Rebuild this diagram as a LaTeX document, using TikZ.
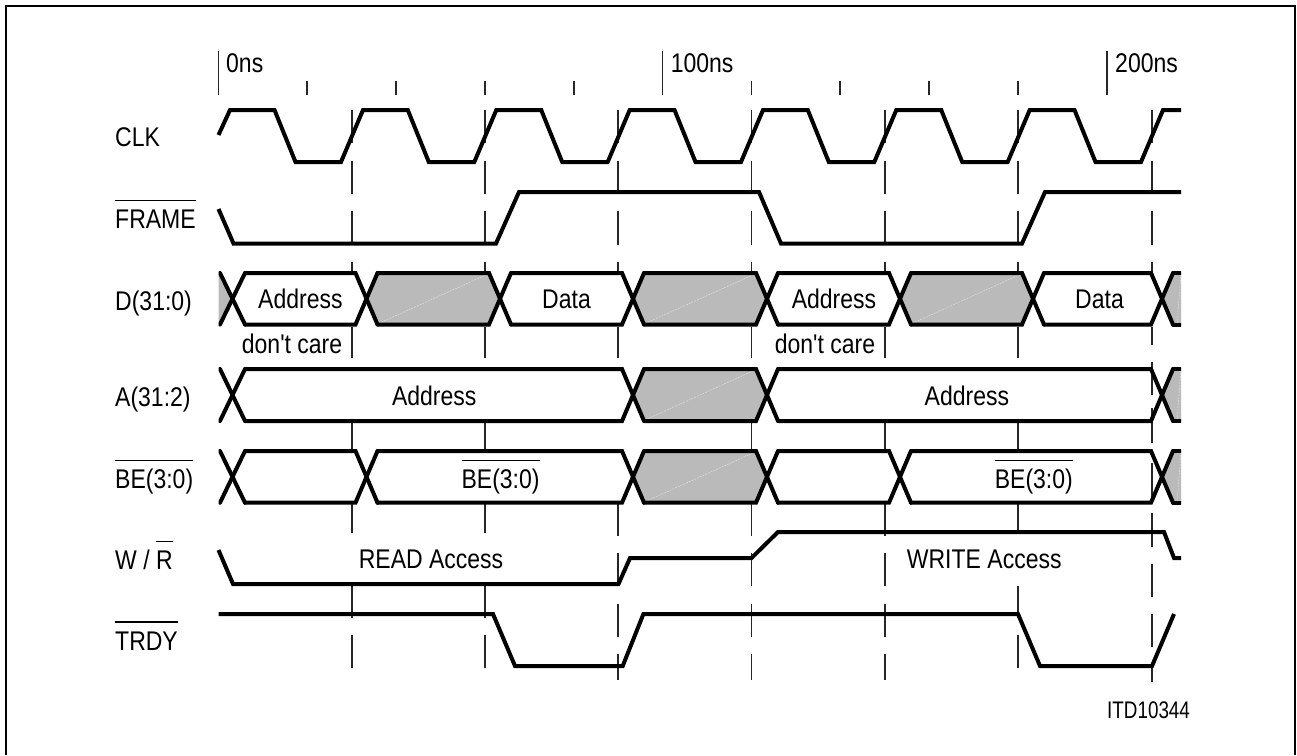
\documentclass[tikz,border=0pt]{standalone}
\usepackage{fontspec}
\newfontfamily\sigfont[FakeStretch=0.852]{Liberation Sans}
\newfontfamily\sigfontsmall[FakeStretch=0.785]{Liberation Sans}
\newcommand\ovl[1]{\leavevmode\vbox{\hrule height1.3pt\kern8pt\hbox{\vrule width0pt height 19.3pt\smash{#1}}}}
\newcommand\gridsegs[2]{\foreach \a/\b in {#2}{\draw[gridline] (#1,\a) -- (#1,\b);}}
\newcommand\hexa[3]{% T, B, c1/c2 pairs
  \foreach \p/\q in {#3}{
    \fill[busgrey] (\p,{(#1+#2)/2}) -- (\p+11,#1) -- (\q-11,#1) -- (\q,{(#1+#2)/2}) -- (\q-11,#2) -- (\p+11,#2) -- cycle;
    \draw[fainte] (\p+12,#2-1) -- (\q-12,#1+1);
  }
  \fill[busgrey] (1162,{(#1+#2)/2}) -- (1173,#1) -- (1181,#1) -- (1181,#2) -- (1173,#2) -- cycle;
  \draw[fainte] (1177,#2-1) -- (1181,#1+1);
}
\newcommand\busrow[3]{% T, B, crossings
  \begin{scope}
    \clip (218.5,0) rectangle (1181,755);
    \draw[sig] (220,#1) -- (245,#2);
    \draw[sig] (220,#2) -- (245,#1);
    \foreach \c [remember=\c as \pv (initially 234)] in {#3}{
      \draw[sig] (\pv+11,#1) -- (\c-11,#1) -- (\c+11,#2);
      \draw[sig] (\pv+11,#2) -- (\c-11,#2) -- (\c+11,#1);
    }
    \draw[sig] (1173,#1) -- (1190,#1);
    \draw[sig] (1173,#2) -- (1190,#2);
  \end{scope}
}
\tikzset{
  sig/.style={line width=4pt,line join=miter,line cap=round},
  wave/.style={line width=4pt,line join=miter,line cap=butt},
  gridline/.style={line width=1.2pt,black!85},
  busgrey/.style={fill=black!27},
  fainte/.style={line width=0.5pt,white,opacity=0.55,dash pattern=on 2pt off 1pt},
  lbl/.style={anchor=base west,inner sep=0pt,font=\sigfont\fontsize{27}{32}\selectfont},
  lblsmall/.style={anchor=base west,inner sep=0pt,font=\sigfontsmall\fontsize{24}{28}\selectfont},
}
\begin{document}
\begin{tikzpicture}[x=1pt,y=-1pt]
\useasboundingbox (0,0) rectangle (1297,755);
% frame (open at the bottom)
\draw[line width=2pt,miter limit=10] (6,755) -- (6,6) -- (1295,6) -- (1295,755);
% time ticks
\foreach \x in {218.5,662.5,1107}{\draw[gridline] (\x,51) -- (\x,95);}
\foreach \x in {307,396,485,574,751.5,840,929,1018}{\draw[gridline] (\x,81) -- (\x,95);}
% clock-edge guide lines
\foreach \x in {352,485,1018}{
  \gridsegs{\x}{110/143,161/194,211/245,262/272,327/358,422/449,504/533,586/618,635/668}
}
\foreach \x in {618,751.5,885}{
  \gridsegs{\x}{110/143,161/194,211/245,262/272,327/358,504/536,553/586,604/637,654/680}
}
\foreach \x in {751.5,885}{\gridsegs{\x}{422/449}}
\gridsegs{1152}{110/143,161/194,211/245,262/272,327/345,362/395,408/443,463/497,513/547,564/597,614/647,664/682}
% grey bus regions
\fill[busgrey] (218.5,273) -- (234,299) -- (218.5,324.5) -- cycle;
\hexa{273}{324.5}{366.5/500,633/767,900/1033}
\hexa{369}{421}{633/767}
\hexa{451}{502.7}{633/767}
% waveforms
\draw[wave] (218.5,135) -- (230,110) -- (274.5,110) -- (295.5,162) -- (341,162) -- (363,110)
  -- (407.8,110) -- (428.8,162) -- (474.3,162) -- (496.3,110)
  -- (541.2,110) -- (562.2,162) -- (607.7,162) -- (629.7,110)
  -- (674.5,110) -- (695.5,162) -- (741,162) -- (763,110)
  -- (807.8,110) -- (828.8,162) -- (874.3,162) -- (896.3,110)
  -- (941.2,110) -- (962.2,162) -- (1007.7,162) -- (1029.7,110)
  -- (1074.5,110) -- (1095.5,162) -- (1141,162) -- (1163,110) -- (1181,110);
\draw[wave] (218.5,209) -- (233.5,243.5) -- (496,243.5) -- (519,192) -- (759,192) -- (781,243.5) -- (1022,243.5) -- (1045,192) -- (1181,192);
\busrow{273}{324.5}{366.5,500,633,767,900,1033,1162}
\busrow{369}{421}{633,767,1162}
\busrow{451}{502.7}{366.5,633,767,900,1162}
\draw[wave] (218.5,550) -- (233,584) -- (618.5,584) -- (630,558) -- (751.5,558) -- (778,532) -- (1164,532) -- (1174,558) -- (1181,558);
\draw[wave] (218.5,614) -- (493,614) -- (515,666) -- (622.7,666) -- (643.4,614) -- (1018,614) -- (1040,666) -- (1152,666) -- (1174,614);
% signal names
\node[lbl] (nclk) at (115,146.7) {CLK};
\node[lbl] (nframe) at (115,228.7) {\ovl{FRAME}};
\node[lbl] (nd) at (115,310) {D(31:0)};
\node[lbl] (na) at (115,406.7) {A(31:2)};
\node[lbl] (nbe) at (115,488.3) {\ovl{BE(3:0)}};
\node[lbl] (nwr) at (115,569.3) {W / \ovl{R}};
\node[lbl] (ntrdy) at (115,650) {\ovl{TRDY}};
% time labels
\node[lbl] (t0) at (226,72.7) {0ns};
\node[lbl] (t100) at (670.6,72.7) {100ns};
\node[lbl] (t200) at (1115,72.7) {200ns};
% bus contents
\node[lbl] (d1) at (258,308.3) {Address};
\node[lbl] (d2) at (542,308.3) {Data};
\node[lbl] (d3) at (791.6,308.3) {Address};
\node[lbl] (d4) at (1075,308.3) {Data};
\node[lbl] (dc1) at (241.7,353.3) {don't care};
\node[lbl] (dc2) at (774.6,353.3) {don't care};
\node[lbl] (a1) at (391.8,405.7) {Address};
\node[lbl] (a2) at (924.5,405.7) {Address};
\node[lbl] (be1) at (461.4,488.3) {\ovl{BE(3:0)}};
\node[lbl] (be2) at (994.6,488.3) {\ovl{BE(3:0)}};
\node[lbl] (rd) at (358.6,568) {READ Access};
\node[lbl] (wr) at (906.7,568) {WRITE Access};
\node[lblsmall] (itd) at (1107,718.3) {ITD10344};
\end{tikzpicture}
\end{document}
